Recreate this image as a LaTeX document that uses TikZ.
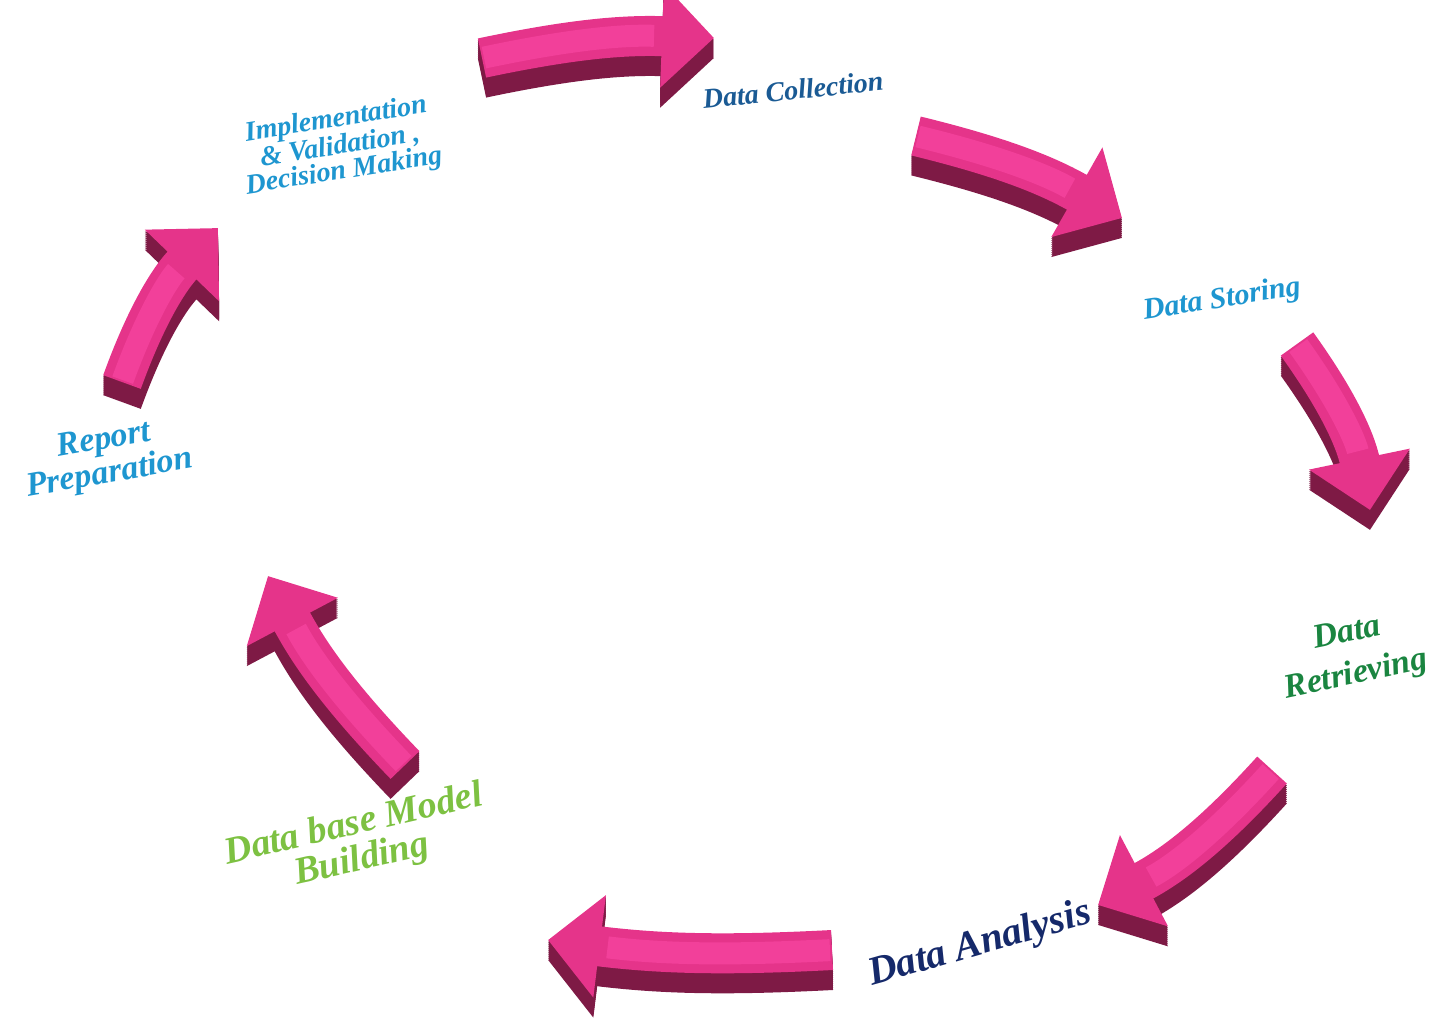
\documentclass[tikz,border=0pt]{standalone}
\usepackage{fontspec}
\setmainfont{Liberation Serif}
\usetikzlibrary{arrows.meta}
\definecolor{pinktop}{HTML}{E5348A}
\definecolor{pinkshine}{HTML}{F2409A}
\definecolor{pinkside}{HTML}{7E1A45}
\definecolor{skyblue}{HTML}{1E96D0}
\definecolor{deepblue}{HTML}{1A5A94}
\definecolor{navyblue}{HTML}{15296A}
\definecolor{darkgreen}{HTML}{1A8540}
\definecolor{leafgreen}{HTML}{7DC142}
\tikzset{
 arrowtop/.style={line width=20pt,color=pinktop,-{Triangle[length=26pt,width=50pt]}},
 arrowside/.style={arrowtop,color=pinkside},
 arrowshine/.style={line width=11pt,color=pinkshine,shorten >=30pt,shorten <=1pt},
 steplabel/.style={align=center,inner sep=0pt},
}
\newcommand{\cyclearrow}[3]{%
 \foreach \d in {1,...,10}{\draw[arrowside] ([yshift=-\d pt]#1) to[bend left=#3] ([yshift=-\d pt]#2);}%
 \draw[arrowtop] (#1) to[bend left=#3] (#2);
 \draw[arrowshine] (#1) to[bend left=#3] (#2);}
\begin{document}
\begin{tikzpicture}[x=0.5pt,y=-0.5pt]
 \useasboundingbox (0,0) rectangle (1434,1024); %全体
 \coordinate (a1s) at (482,58); %矢印1
 \coordinate (a1e) at (714,38);
 \coordinate (a2s) at (916,136); %矢印2
 \coordinate (a2e) at (1122,218);
 \coordinate (a3s) at (1297,344); %矢印3
 \coordinate (a3e) at (1370,510);
 \coordinate (a4s) at (1272,770); %矢印4
 \coordinate (a4e) at (1098,905);
 \coordinate (a5s) at (832,950); %矢印5
 \coordinate (a5e) at (548,940);
 \coordinate (a6s) at (405,765); %矢印6
 \coordinate (a6e) at (268,576);
 \coordinate (a7s) at (122,382); %矢印7
 \coordinate (a7e) at (218,228);

 \cyclearrow{a1s}{a1e}{7}
 \cyclearrow{a2s}{a2e}{8}
 \cyclearrow{a3s}{a3e}{12}
 \cyclearrow{a4s}{a4e}{10}
 \cyclearrow{a5s}{a5e}{5}
 \cyclearrow{a6s}{a6e}{8}
 \cyclearrow{a7s}{a7e}{12}

 \node[steplabel,text=deepblue,rotate=6,font=\fontsize{14}{14}\selectfont\bfseries\itshape] (collect) at (793,90) {Data Collection};
 \node[steplabel,text=skyblue,rotate=9,font=\fontsize{15}{15}\selectfont\bfseries\itshape] (store) at (1222,300) {Data Storing};
 \node[steplabel,text=darkgreen,rotate=12,font=\fontsize{17}{21}\selectfont\bfseries\itshape] (retrieve) at (1352,655) {Data\\Retrieving};
 \node[steplabel,text=navyblue,rotate=16,font=\fontsize{20}{20}\selectfont\bfseries\itshape] (analyse) at (980,945) {Data Analysis};
 \node[steplabel,text=leafgreen,rotate=13,font=\fontsize{19}{18}\selectfont\bfseries\itshape] (model) at (358,843) {Data base Model\\Building};
 \node[steplabel,text=skyblue,rotate=10,font=\fontsize{17}{17}\selectfont\bfseries\itshape] (report) at (107,458) {Report\\Preparation};
 \node[steplabel,text=skyblue,rotate=9,font=\fontsize{14}{12.5}\selectfont\bfseries\itshape] (decide) at (340,146) {Implementation\\\& Validation ,\\Decision Making};
\end{tikzpicture}
\end{document}
